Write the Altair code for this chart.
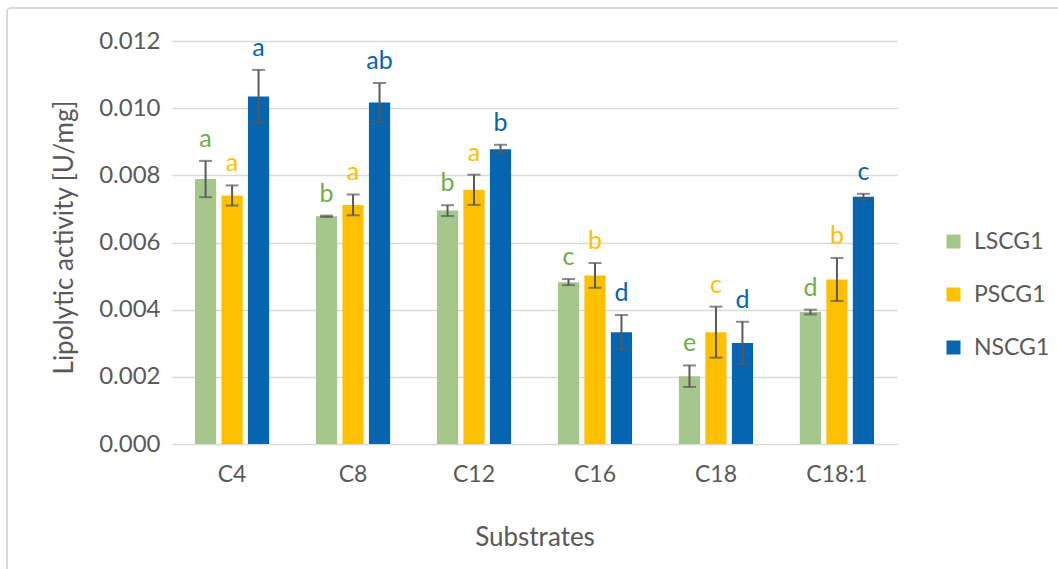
import altair as alt
import pandas as pd

# Lipolytic activity by substrate and strain (mean ± SD) with significance letters
substrates = ["C4", "C8", "C12", "C16", "C18", "C18:1"]
strains = ["LSCG1", "PSCG1", "NSCG1"]

lscg1 = [0.00789, 0.00678, 0.00695, 0.00482, 0.00202, 0.00393]
pscg1 = [0.00740, 0.00712, 0.00757, 0.00502, 0.00333, 0.00490]
nscg1 = [0.01035, 0.01017, 0.00878, 0.00333, 0.00301, 0.00736]

lscg1_sd = [0.00054, 0.00002, 0.00016, 0.00009, 0.00032, 0.00007]
pscg1_sd = [0.00030, 0.00031, 0.00045, 0.00037, 0.00076, 0.00064]
nscg1_sd = [0.00079, 0.00058, 0.00013, 0.00051, 0.00063, 0.00009]

lscg1_letters = ["a", "b", "b", "c", "e", "d"]
pscg1_letters = ["a", "a", "a", "b", "c", "b"]
nscg1_letters = ["a", "ab", "b", "d", "d", "c"]

bar_colors = ["#A5C78C", "#FFC000", "#0565B0"]
letter_colors = ["#70AD47", "#FFC000", "#0565B0"]

FONT = "Lato"
GREY_TEXT = "#595959"

rows = []
series = [
    (lscg1, lscg1_sd, lscg1_letters),
    (pscg1, pscg1_sd, pscg1_letters),
    (nscg1, nscg1_sd, nscg1_letters),
]
for k, (means, sds, letters) in enumerate(series):
    for i, sub in enumerate(substrates):
        rows.append({
            "Substrate": sub,
            "Strain": strains[k],
            "activity": means[i],
            "low": means[i] - sds[i],
            "high": means[i] + sds[i],
            "letter": letters[i],
            "letter_color": letter_colors[k],
        })
df = pd.DataFrame(rows)

W, H = 725, 403
PAD_L, PAD_T = 172, 41

x_enc = alt.X(
    "Substrate:N",
    sort=substrates,
    scale=alt.Scale(paddingInner=0.387, paddingOuter=0.19),
    axis=alt.Axis(
        title="Substrates", labelAngle=0, labelFont=FONT, labelFontSize=23,
        labelColor=GREY_TEXT, labelPadding=19, ticks=False, domain=False,
        titleFont=FONT, titleFontSize=26, titleColor=GREY_TEXT,
        titleFontWeight="normal", titleY=93, titleBaseline="middle",
    ),
)
xoff_enc = alt.XOffset(
    "Strain:N", sort=strains,
    scale=alt.Scale(paddingInner=0.2, paddingOuter=0),
)
y_scale = alt.Scale(domain=[0, 0.012], nice=False)

base = alt.Chart(df).encode(x=x_enc, xOffset=xoff_enc)

bars = base.mark_bar().encode(
    y=alt.Y(
        "activity:Q", scale=y_scale,
        axis=alt.Axis(
            title="Lipolytic activity [U/mg]", format=".3f",
            values=[0, 0.002, 0.004, 0.006, 0.008, 0.010, 0.012],
            labelFont=FONT, labelFontSize=24, labelColor=GREY_TEXT,
            labelPadding=12, ticks=False, domain=False,
            grid=True, gridColor="#D9D9D9", gridWidth=1.6,
            titleFont=FONT, titleFontSize=26, titleColor=GREY_TEXT,
            titleFontWeight="normal", titleX=-108, titleY=196,
            titleAlign="center", titleBaseline="middle", titleAngle=-90,
        ),
    ),
    color=alt.Color(
        "Strain:N", sort=strains,
        scale=alt.Scale(domain=strains, range=bar_colors),
        legend=alt.Legend(
            title=None, orient="none", legendX=770, legendY=189,
            symbolType="square", symbolSize=196, symbolStrokeWidth=0,
            labelFont=FONT, labelFontSize=23, labelColor=GREY_TEXT,
            labelOffset=9, rowPadding=29, padding=0,
        ),
    ),
)

err_line = base.mark_rule(color="#595959", strokeWidth=2).encode(
    y=alt.Y("low:Q", scale=y_scale), y2="high:Q"
)
cap_high = base.mark_tick(color="#595959", size=13, thickness=2).encode(
    y=alt.Y("high:Q", scale=y_scale)
)
cap_low = base.mark_tick(color="#595959", size=13, thickness=2).encode(
    y=alt.Y("low:Q", scale=y_scale)
)

letters_layer = base.mark_text(
    font=FONT, fontSize=25, baseline="alphabetic", dy=-14
).encode(
    y=alt.Y("high:Q", scale=y_scale),
    text="letter:N",
    fill=alt.Fill("letter_color:N", scale=None),
)

# light outline around the chart area
frame = alt.Chart(pd.DataFrame({"k": [0]})).mark_rect(
    fill=None, stroke="#D9D9D9", strokeWidth=2, cornerRadius=4
).encode(
    x=alt.value(7 - PAD_L), x2=alt.value(1058 - PAD_L + 30),
    y=alt.value(8 - PAD_T), y2=alt.value(569 - PAD_T + 30),
)

chart = alt.layer(frame, bars, err_line, cap_high, cap_low, letters_layer).properties(
    width=W, height=H,
    autosize=alt.AutoSizeParams(type="none"),
    padding={"left": PAD_L, "top": PAD_T, "right": 1058 - PAD_L - W, "bottom": 569 - PAD_T - H},
    background="white",
).configure_view(stroke=None)

chart.save("out.html", embed_options={"renderer": "svg", "actions": False})
